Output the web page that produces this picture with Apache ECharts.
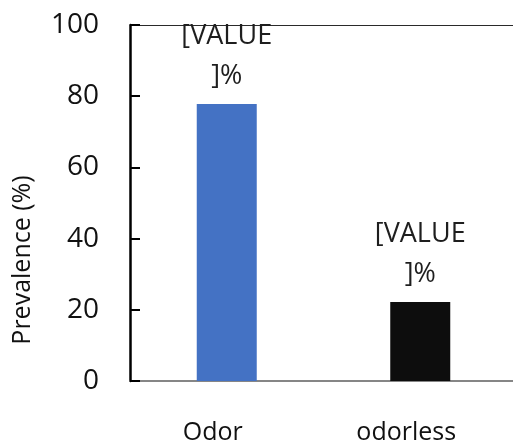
<!DOCTYPE html>
<html>
<head>
<meta charset="utf-8">
<script src="https://cdn.jsdelivr.net/npm/echarts@6/dist/echarts.min.js"></script>
<style>
  html, body { margin: 0; padding: 0; background: #fff; }
  #chart { width: 513px; height: 442px; }
</style>
</head>
<body>
<div id="chart"></div>
<script>
// Prevalence by sample group
const categories = ['Odor', 'odorless'];
const prevalence = [77.8, 22.2];
const barColors = ['#4472C4', '#0D0D0D'];
const yTicks = [0, 20, 40, 60, 80, 100];
const labelText = '[VALUE\n]%';
const yTitle = 'Prevalence (%)';

const FONT = 'Open Sans';

const chart = echarts.init(document.getElementById('chart'), null, { renderer: 'canvas' });

chart.setOption({
  animation: false,
  backgroundColor: '#ffffff',
  grid: {
    left: 130, right: -4, top: 25, bottom: 61,
    containLabel: false,
    outerBoundsMode: 'none'
  },
  xAxis: [
    {
      type: 'category',
      data: categories,
      axisLine: { show: true, lineStyle: { color: '#5f5f5f', width: 1.5 } },
      axisTick: { show: false },
      axisLabel: {
        color: '#111111',
        fontFamily: FONT,
        fontSize: 25,
        margin: 39,
        padding: [0, 28, 0, 0]
      },
      splitLine: { show: false }
    },
    {
      type: 'category',
      data: categories,
      position: 'top',
      axisLine: { show: true, lineStyle: { color: '#2a2a2a', width: 1 } },
      axisTick: { show: false },
      axisLabel: { show: false },
      splitLine: { show: false }
    }
  ],
  yAxis: {
    type: 'value',
    min: yTicks[0],
    max: yTicks[yTicks.length - 1],
    interval: yTicks[1] - yTicks[0],
    axisLine: { show: true, lineStyle: { color: '#000', width: 2.5 } },
    axisTick: { show: true, inside: true, length: 10, lineStyle: { color: '#000', width: 2 } },
    axisLabel: {
      color: '#111111',
      fontFamily: FONT,
      fontSize: 28,
      margin: 31
    },
    splitLine: { show: false }
  },
  graphic: [
    {
      type: 'text',
      x: 23,
      y: 260,
      rotation: Math.PI / 2,
      style: {
        text: yTitle,
        fontFamily: FONT,
        fontSize: 25,
        fill: '#111111',
        align: 'center',
        verticalAlign: 'middle'
      }
    }
  ],
  series: [
    {
      type: 'bar',
      barWidth: 60,
      data: prevalence.map((v, i) => ({ value: v, itemStyle: { color: barColors[i] } })),
      label: {
        show: true,
        position: 'top',
        distance: 8,
        formatter: labelText,
        fontFamily: FONT,
        fontSize: 27,
        lineHeight: 40,
        color: '#1e1e1e'
      }
    }
  ]
});
</script>
</body>
</html>
